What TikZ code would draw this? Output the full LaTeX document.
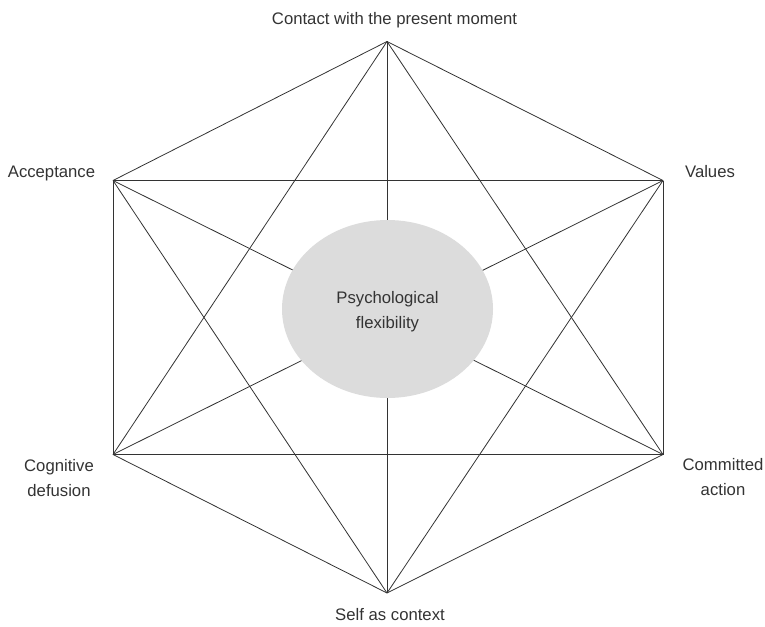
\documentclass[tikz,border=0pt]{standalone}
\usepackage{fontspec}
\setmainfont{Liberation Sans}
\usepackage{tikz}
\usetikzlibrary
  {
    shapes.geometric,         % ellipse in the middle
    positioning,              % place nodes relative to other nodes
    calc,
  }

\definecolor{inkgray}{HTML}{333333}
\definecolor{blobgray}{HTML}{DCDCDC}

\tikzset{
  corner label/.style={text=inkgray, align=center, anchor=base, inner sep=0pt,
    font=\fontsize{16.7}{25}\selectfont},
  link/.style={draw=inkgray, line width=0.8pt},
}

\begin{document}
\begin{tikzpicture}[x=1pt, y=-1pt]
    \useasboundingbox (0,0) rectangle (765,626);

    % corners of the hexagon
    \coordinate (C) at (387,41.5);
    \coordinate (V) at (663,180.5);
    \coordinate (A) at (663,454.5);
    \coordinate (S) at (387,593);
    \coordinate (D) at (113,454.5);
    \coordinate (P) at (113,180.5);

    % every corner joined to every other one
    \foreach \a/\b in {C/V, C/A, C/S, C/D, C/P,
                       V/A, V/S, V/D, V/P,
                       A/S, A/D, A/P,
                       S/D, S/P,
                       D/P}
      \draw [link] (\a) -- (\b);

    \node (flex) [ellipse, fill=blobgray, minimum width=211, minimum height=178,
                  inner sep=0pt] at (387.5,309) {};
    % base of a two line label is its last line
    \node [corner label] at ($ (flex.center) + (0,19) $)
      {Psychological\\flexibility};

    \node (contact) [corner label] at (394.5,25) {Contact with the present moment};
    \node (values) [corner label] at (710,177) {Values};
    \node (action) [corner label] at (723,495) {Committed\\action};
    \node (self) [corner label] at (390,620) {Self as context};
    \node (defusion) [corner label] at (59,496) {Cognitive\\defusion};
    \node (accept) [corner label] at (51.5,177) {Acceptance};
  \end{tikzpicture}
\end{document}
